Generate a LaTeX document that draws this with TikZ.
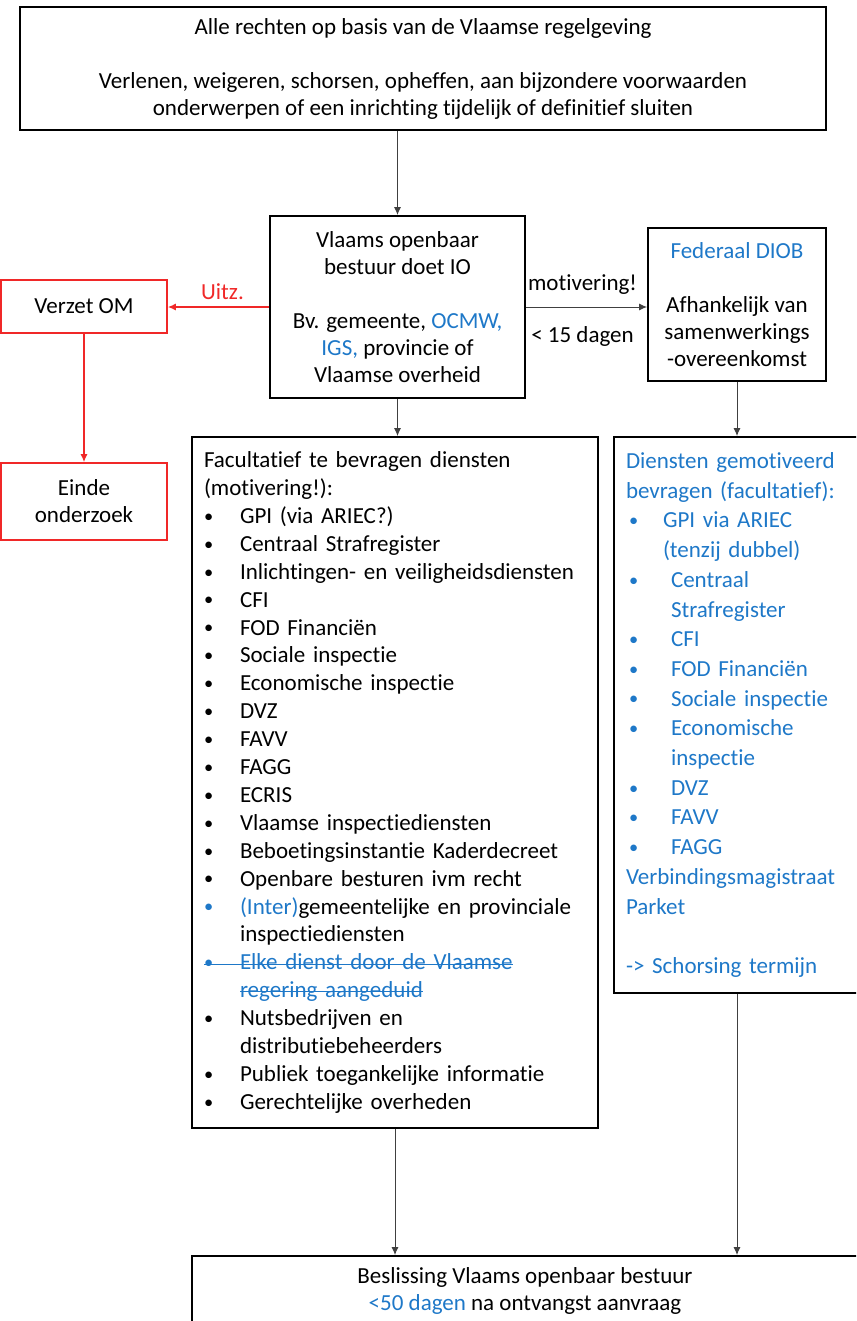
\documentclass[tikz,border=0pt]{standalone}
\usepackage{fontspec}
\usepackage{graphicx}
\setmainfont{Carlito}[Ligatures=NoCommon]
\usetikzlibrary{arrows.meta}
\definecolor{ablue}{RGB}{30,120,200}
\definecolor{ared}{RGB}{240,40,40}
\newsavebox\strkbox
\newcommand\bul{\raisebox{0.6pt}{\scalebox{0.8}{\textbullet}}}
\newcommand\bi[1]{\makebox[18pt][l]{\bul}#1}
\newcommand\rb[1]{\makebox[22.5pt][l]{\hspace{1.5pt}\bul}#1}
\newcommand\strk[1]{\leavevmode\sbox\strkbox{#1}\rlap{\color{ablue}\rule[0.23em]{\wd\strkbox}{0.5pt}}\usebox\strkbox}
\tikzset{
  box/.style={draw=black, line width=0.9pt, rectangle, inner sep=0pt, font=\fontsize{11.5}{13.5}\selectfont},
  redbox/.style={draw=ared, line width=0.9pt, rectangle, inner sep=0pt, font=\fontsize{11.5}{13.5}\selectfont},
  conn/.style={draw=black!75, line width=0.5pt, -{Latex[length=4pt,width=3.5pt]}},
  redconn/.style={draw=ared, line width=0.6pt, -{Latex[length=4pt,width=3.5pt]}},
  lbl/.style={font=\fontsize{11.5}{13.5}\selectfont, inner sep=0pt}
}
\begin{document}
\begin{tikzpicture}[x=0.5pt,y=-0.5pt]
\useasboundingbox (0,0) rectangle (856,1321);
\clip (0,0) rectangle (856,1321);

\node[box, minimum width=403pt, minimum height=61.5pt, align=center] (top) at (423,68.5)
  {Alle rechten op basis van de Vlaamse regelgeving\\\mbox{}\\
   Verlenen, weigeren, schorsen, opheffen, aan bijzondere voorwaarden\\
   onderwerpen of een inrichting tijdelijk of definitief sluiten};

\node[box, minimum width=127.5pt, minimum height=91pt, align=center] (mid) at (397.5,307)
  {Vlaams openbaar\\bestuur doet IO\\\mbox{}\\
   Bv. gemeente, \textcolor{ablue}{OCMW,}\\
   \textcolor{ablue}{IGS,} provincie of\\Vlaamse overheid};

\node[box, minimum width=89pt, minimum height=76.5pt, align=center] (diob) at (737,304.5)
  {\textcolor{ablue}{Federaal DIOB}\\\mbox{}\\Afhankelijk van\\samenwerkings\\-overeenkomst};

\node[redbox, minimum width=83pt, minimum height=26.5pt] (verzet) at (84,306.5) {Verzet OM};
\node[redbox, minimum width=83pt, minimum height=38.5pt, align=center] (einde) at (84,501.5) {Einde\\onderzoek};

\node[box, minimum width=203pt, minimum height=345.5pt, inner xsep=6pt, text width=191pt, align=left,
      font=\fontsize{11.5}{13.95}\selectfont] (list) at (395,782.5)
  {Facultatief te bevragen diensten\\
   (motivering!):\\
   \bi{GPI (via ARIEC?)}\\
   \bi{Centraal Strafregister}\\
   \bi{Inlichtingen- en veiligheidsdiensten}\\
   \bi{CFI}\\
   \bi{FOD Financiën}\\
   \bi{Sociale inspectie}\\
   \bi{Economische inspectie}\\
   \bi{DVZ}\\
   \bi{FAVV}\\
   \bi{FAGG}\\
   \bi{ECRIS}\\
   \bi{Vlaamse inspectiediensten}\\
   \bi{Beboetingsinstantie Kaderdecreet}\\
   \bi{Openbare besturen ivm recht}\\
   {\color{ablue}\makebox[18pt][l]{\bul}(Inter)}gemeentelijke en provinciale\\
   \hspace*{18pt}inspectiediensten\\
   \strk{\color{ablue}\bi{Elke dienst door de Vlaamse}}\\
   \hspace*{18pt}\strk{\color{ablue}regering aangeduid}\\
   \bi{Nutsbedrijven en}\\
   \hspace*{18pt}distributiebeheerders\\
   \bi{Publiek toegankelijke informatie}\\
   \bi{Gerechtelijke overheden}};

\node[box, minimum width=128pt, minimum height=278pt, inner xsep=6pt, text width=116pt, align=left,
      text=ablue, font=\fontsize{11.5}{14.85}\selectfont] (rbox) at (742,715)
  {Diensten gemotiveerd\\
   bevragen (facultatief):\\
   \makebox[18.5pt][l]{\hspace{1.5pt}\bul}GPI via ARIEC\\
   \hspace*{18.5pt}(tenzij dubbel)\\
   \rb{Centraal}\\
   \hspace*{22.5pt}Strafregister\\
   \rb{CFI}\\
   \rb{FOD Financiën}\\
   \rb{Sociale inspectie}\\
   \rb{Economische}\\
   \hspace*{22.5pt}inspectie\\
   \rb{DVZ}\\
   \rb{FAVV}\\
   \rb{FAGG}\\
   Verbindingsmagistraat\\
   Parket\\
   \mbox{}\\
   -> Schorsing termijn};

\node[box, minimum width=333pt, minimum height=34.5pt, align=center] (bot) at (525,1290.5)
  {Beslissing Vlaams openbaar bestuur\\
   \textcolor{ablue}{<50 dagen} na ontvangst aanvraag};

% connectors
\draw[conn] (top.south -| mid.north) -- (mid.north);
\draw[conn] (mid.south) -- (mid.south |- list.north);
\draw[conn] (mid.east) -- node[lbl, above=6pt, xshift=-2pt] {motivering!}
                          node[lbl, below=9.5pt, xshift=-2pt] {< 15 dagen} (mid.east -| diob.west);
\draw[conn] (diob.south) -- (diob.south |- rbox.north);
\draw[redconn] (mid.west) -- node[lbl, above=3.5pt, text=ared, xshift=2pt] {Uitz.} (mid.west -| verzet.east);
\draw[redconn] (verzet.south) -- (einde.north);
\draw[conn] (list.south) -- (list.south |- bot.north);
\draw[conn] (diob.south |- rbox.south) -- (diob.south |- bot.north);
\end{tikzpicture}
\end{document}
